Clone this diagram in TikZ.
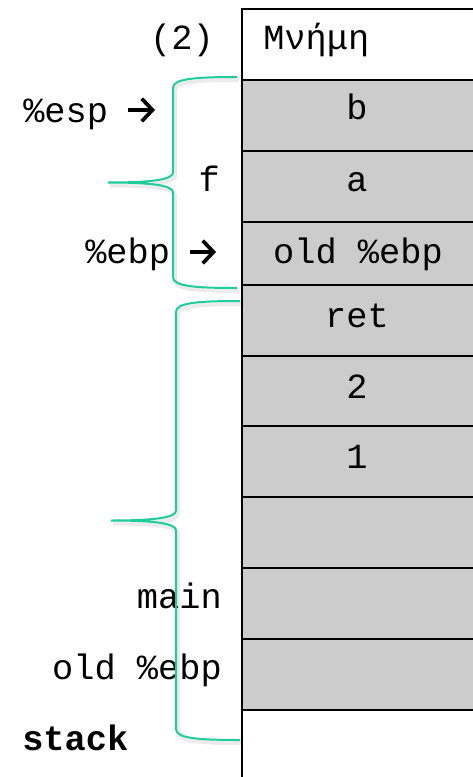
\documentclass[tikz,border=0pt]{standalone}
\usepackage{fontspec}
\setmonofont{Liberation Mono}
\usetikzlibrary{arrows.meta, positioning}
\definecolor{memgray}{RGB}{204,204,204}
\definecolor{bracegreen}{RGB}{30,205,155}
\tikzset{
  lbl/.style = {inner sep=0pt, font=\ttfamily\fontsize{26.5}{30}\selectfont},
  cellval/.style = {lbl, anchor=base},
  rowline/.style = {line width=2pt, black},
  ptr/.style = {line width=2.8pt, -{Straight Barb[length=8pt, width=17pt, line width=2.8pt]}},
  framebrace/.style = {bracegreen, line width=1.5pt},
  braceshadow/.style = {black, opacity=0.08, line width=3pt}
}
% left curly brace: #2 end x, #3 spine x, #4 tip x, #5 top y, #6 bottom y
\newcommand{\framebrace}[6][framebrace]{%
  \pgfmathsetmacro\bmid{(#5+#6)/2}
  \draw[#1] (#2,#5) .. controls (#3+20,#5) and (#3,#5+2) .. (#3,#5+11)
    -- (#3,\bmid-10) .. controls (#3,\bmid-3) and (#3-20,\bmid) .. (#4,\bmid)
    .. controls (#3-20,\bmid) and (#3,\bmid+3) .. (#3,\bmid+10)
    -- (#3,#6-11) .. controls (#3,#6-2) and (#3+20,#6) .. (#2,#6);
}

\begin{document}
\begin{tikzpicture}[x=0.75pt, y=-0.75pt]
\useasboundingbox (0,0) rectangle (472,777);

% memory cells
\fill[memgray] (242,80) rectangle (480,710);
\foreach \y in {9,80,151,222,285,356,426,497,568,639,710}
  \draw[rowline] (242,\y) -- (480,\y);
\draw[rowline] (242,8) -- (242,780);

\node[lbl, anchor=base west] (mem) at (263,50) {Μνήμη};
\node[cellval] (vb) at (357,120) {b};
\node[cellval] (va) at (357,192) {a};
\node[cellval] (voldebp) at (358,263) {old \%ebp};
\node[cellval] (vret) at (357,327) {ret};
\node[cellval] (v2) at (357,398) {2};
\node[cellval] (v1) at (357,468) {1};

% labels on the left
\node[lbl, anchor=base east] (step) at (214,50) {(2)};
\node[lbl, anchor=base west] (esp) at (23,123) {\%esp};
\node[lbl, anchor=base east] (fname) at (220,192) {f};
\node[lbl, anchor=base west] (ebp) at (85,263) {\%ebp};
\node[lbl, anchor=base east] (mainname) at (222,608) {main};
\node[lbl, anchor=base east] (mainebp) at (222,679) {old \%ebp};
\node[lbl, anchor=base west, font=\ttfamily\bfseries\fontsize{26.5}{30}\selectfont] (stk) at (22,750) {stack};

% register pointers
\coordinate (espfrom) at (128,110);
\coordinate (espto) at (155,110);
\coordinate (ebpfrom) at (190,252);
\coordinate (ebpto) at (216,252);
\draw[ptr] (espfrom) -- (espto);
\draw[ptr] (ebpfrom) -- (ebpto);

% frames
\begin{scope}[shift={(2,3)}]
  \framebrace[braceshadow]{237}{173}{108}{77}{288}
  \framebrace[braceshadow]{240}{176}{111}{301}{740}
\end{scope}
\framebrace{237}{173}{108}{77}{288}
\framebrace{240}{176}{111}{301}{740}
\end{tikzpicture}
\end{document}
